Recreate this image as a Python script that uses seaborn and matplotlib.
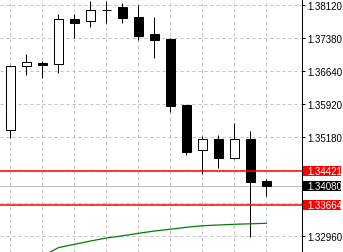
import numpy as np
import matplotlib
matplotlib.use("Agg")
import matplotlib.pyplot as plt
import matplotlib.transforms as mtransforms
from matplotlib.patches import Rectangle
import seaborn as sns

# ---------------- data ----------------
candles = list(range(17))
opens = [1.35333, 1.36753, 1.36827, 1.36798, 1.37808, 1.37757, 1.38001, 1.38075, 1.37852,
         1.37473, 1.37362, 1.35890, 1.34880, 1.35125, 1.34715, 1.35132, 1.34195]
highs = [1.36789, 1.37027, 1.36871, 1.37919, 1.37919, 1.38203, 1.38203, 1.38165, 1.38120,
         1.37852, 1.37377, 1.35901, 1.35205, 1.35221, 1.35489, 1.35304, 1.34240]
lows = [1.35147, 1.36566, 1.36499, 1.36610, 1.37377, 1.37636, 1.37725, 1.37725, 1.37340,
        1.36938, 1.35741, 1.34782, 1.34351, 1.34478, 1.34692, 1.32953, 1.33867]
closes = [1.36753, 1.36842, 1.36789, 1.37801, 1.37725, 1.38002, 1.38003, 1.37837, 1.37435,
          1.37346, 1.35874, 1.34849, 1.35132, 1.34715, 1.35125, 1.34180, 1.34080]
moving_avg = [np.nan, np.nan, 1.32520, 1.32710, 1.32784, 1.32857, 1.32924, 1.32973, 1.33029,
              1.33080, 1.33120, 1.33163, 1.33198, 1.33214, 1.33230, 1.33241, 1.33252]

grid_prices = [1.38120, 1.37380, 1.36640, 1.35920, 1.35180, 1.34440, 1.33700, 1.32960]
grid_labels = ["1.38120", "1.37380", "1.36640", "1.35920", "1.35180", "", "", "1.32960"]

resistance = 1.34421
support = 1.33664
current = 1.34080
level_labels = ["1.34421", "1.34080", "1.33664"]

# ---------------- style ----------------
sns.set_theme(style="white")
plt.rcParams["font.family"] = ["Liberation Sans", "DejaVu Sans"]
FS = 7

fig = plt.figure(figsize=(3.43, 2.53), dpi=100)
ax = fig.add_axes([0, 0, 302 / 343, 1])
ax.set_facecolor("white")

LW = 0.72  # 1 px

# wicks
ax.vlines(candles, lows, highs, color="black", linewidth=LW, zorder=3)

# bodies
bottoms = [min(o, c) for o, c in zip(opens, closes)]
heights = [abs(c - o) for o, c in zip(opens, closes)]
colors = ["white" if c >= o else "black" for o, c in zip(opens, closes)]
ax.bar(candles, heights, bottom=bottoms, width=0.6, color=colors,
       edgecolor="black", linewidth=LW, zorder=4)

# moving average
sns.lineplot(x=candles, y=moving_avg, color="#008000", linewidth=0.9, ax=ax, zorder=5)

ax.set_xlim(-0.656, 18.22)
ax.set_ylim(1.32612, 1.38254)

# levels
ax.hlines([current], -0.656, 18.22, colors="#c0c0c0", linewidth=LW, zorder=2)
ax.hlines([resistance, support], -0.656, 18.22, colors="red", linewidth=1.1, zorder=20)

# axes / grid
ax.set_xticks(list(range(0, 17, 2)))
ax.tick_params(axis="x", length=0, labelbottom=False)
ax.yaxis.tick_right()
ax.set_yticks(grid_prices)
ax.set_yticklabels(grid_labels)
ax.tick_params(axis="y", direction="out", length=2.5, width=LW, color="black",
               pad=1.5, labelsize=FS, labelcolor="black")
ax.grid(True, color="#c0c0c0", linestyle=(0, (3, 3)), linewidth=LW)
ax.set_axisbelow(True)
for side in ["left", "top", "bottom"]:
    ax.spines[side].set_visible(False)
ax.spines["right"].set_color("black")
ax.spines["right"].set_linewidth(LW)
ax.set_xlabel("")
ax.set_ylabel("")

# price boxes
trans = mtransforms.blended_transform_factory(ax.transAxes, ax.transData)
box_h = 0.00223
for price, label, fc in zip([resistance, current, support], level_labels,
                            ["#ff0000", "black", "#ff0000"]):
    ax.add_patch(Rectangle((1.0033, price - box_h / 2), 0.126, box_h, transform=trans,
                           facecolor=fc, edgecolor="none", clip_on=False, zorder=10))
    ax.text(1.019, price, label, transform=trans, ha="left", va="center",
            color="white", fontsize=FS, zorder=11, clip_on=False)

fig.savefig("out.png", dpi=100)
